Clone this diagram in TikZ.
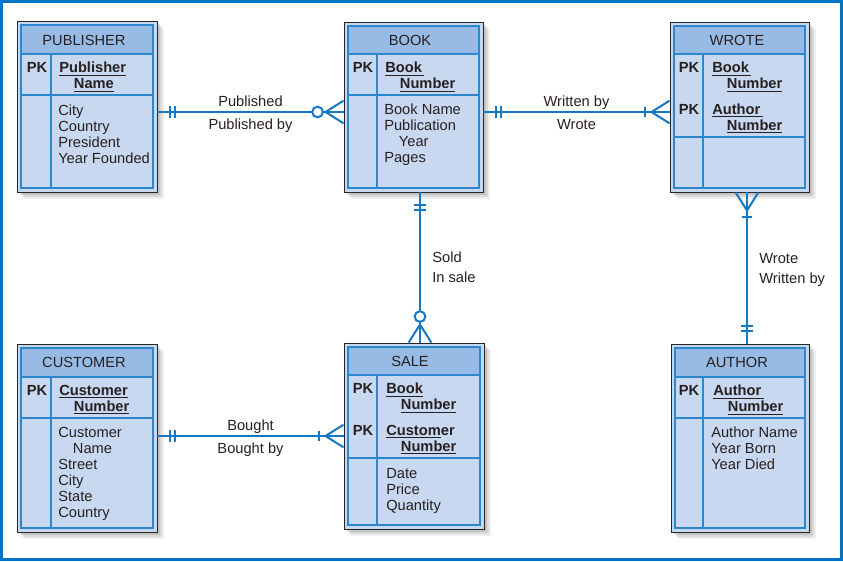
\documentclass[tikz,border=0pt]{standalone}
\usepackage{fontspec}
\setmainfont{Liberation Sans}
\usetikzlibrary{positioning,fit,calc,shadows,decorations.markings}
\definecolor{hdrcol}{RGB}{151,187,228}
\definecolor{bodycol}{RGB}{199,216,240}
\definecolor{edgecol}{RGB}{45,135,205}
\definecolor{relcol}{RGB}{20,120,195}
\definecolor{framecol}{RGB}{0,115,195}
\definecolor{txtcol}{RGB}{40,32,32}

\begin{document}
\begin{tikzpicture}[
  x=0.75pt, y=-0.75pt,
  tbl/.style={draw=black!85, line width=0.7pt, fill=bodycol, inner sep=0pt,
              drop shadow={shadow xshift=5pt, shadow yshift=-5pt, opacity=0.12},
              drop shadow={shadow xshift=3.5pt, shadow yshift=-3.5pt, opacity=0.18},
              drop shadow={shadow xshift=2pt, shadow yshift=-2pt, opacity=0.25}},
  hdr/.style={fill=hdrcol},
  inbox/.style={draw=edgecol, line width=1.2pt},
  inln/.style={draw=edgecol, line width=0.8pt},
  txt/.style={font=\fontsize{11}{12}\selectfont, text=txtcol, inner sep=0pt,
              align=left},
  ttl/.style={txt, anchor=center},
  pk/.style={txt, font=\fontsize{11}{12}\selectfont\bfseries, anchor=center},
  attr/.style={txt, anchor=north west},
  rel/.style={draw=relcol, line width=1.5pt},
  mk/.style={draw=relcol, line width=1.5pt},
  rlbl/.style={txt, anchor=base},
  vlbl/.style={txt, anchor=base west, xshift=8.5pt},
  onestart/.style={postaction={decorate, decoration={markings,
      mark=at position 9.75pt with {\draw[mk] (0,-4.5pt) -- (0,4.5pt);},
      mark=at position 13.5pt with {\draw[mk] (0,-4.5pt) -- (0,4.5pt);}}}},
  zeromany/.style={postaction={decorate, decoration={markings,
      mark=at position -13.5pt with
        {\draw[mk] (13.5pt,8.5pt) -- (0,0) -- (13.5pt,-8.5pt);},
      mark=at position -19.5pt with
        {\draw[mk, fill=white] (0,0) circle[radius=4pt];}}}},
  onemany/.style={postaction={decorate, decoration={markings,
      mark=at position -13.5pt with
        {\draw[mk] (13.5pt,8.5pt) -- (0,0) -- (13.5pt,-8.5pt);},
      mark=at position -18.75pt with {\draw[mk] (0,-4pt) -- (0,4pt);}}}}
]
\useasboundingbox (0,0) rectangle (843,561);
\fill[white] (0,0) rectangle (843,561);
\draw[framecol, line width=2.25pt] (1.5,1.5) rectangle (841.5,559.5);

%% PUBLISHER
\node[tbl, fit={(17,21) (157,192)}] (pub) {};
\fill[hdr] (21,25) rectangle (153,54);
\draw[inln] (21,54) -- (153,54) (21,95) -- (153,95) (51,54) -- (51,188);
\draw[inbox] (21,25) rectangle (153,188);
\node[ttl] (pubttl) at (84,40) {PUBLISHER};
\node[pk] (pubpk) at (37,67) {PK};
\node[attr] (pubkey) at (59,62)
  {\underline{\textbf{Publisher}}\\\hspace*{1em}\underline{\textbf{Name}}};
\node[attr] (pubatt) at (58,105) {City\\Country\\President\\Year Founded};

%% BOOK
\node[tbl, fit={(344,22) (483,192)}] (book) {};
\fill[hdr] (348,26) rectangle (479,54);
\draw[inln] (348,54) -- (479,54) (348,95) -- (479,95) (377,54) -- (377,188);
\draw[inbox] (348,26) rectangle (479,188);
\node[ttl] (bookttl) at (410,40) {BOOK};
\node[pk] (bookpk) at (363,67) {PK};
\node[attr] (bookkey) at (385,62)
  {\underline{\textbf{Book}\,}\\\hspace*{1em}\underline{\textbf{Number}}};
\node[attr] (bookatt) at (384,104)
  {Book Name\\Publication\\\hspace*{1em}Year\\Pages};

%% WROTE
\node[tbl, fit={(670,22) (809,192)}] (wrote) {};
\fill[hdr] (674,26) rectangle (805,54);
\draw[inln] (674,54) -- (805,54) (674,137) -- (805,137) (703,54) -- (703,188);
\draw[inbox] (674,26) rectangle (805,188);
\node[ttl] (wrotettl) at (737,40) {WROTE};
\node[pk] (wrotepk1) at (689,67) {PK};
\node[attr] (wrotekey1) at (712,62)
  {\underline{\textbf{Book}\,}\\\hspace*{1em}\underline{\textbf{Number}}};
\node[pk] (wrotepk2) at (689,109) {PK};
\node[attr] (wrotekey2) at (712,103.5)
  {\underline{\textbf{Author}\,}\\\hspace*{1em}\underline{\textbf{Number}}};

%% CUSTOMER
\node[tbl, fit={(17,344) (157,532)}] (cust) {};
\fill[hdr] (21,348) rectangle (153,377);
\draw[inln] (21,377) -- (153,377) (21,418) -- (153,418) (51,377) -- (51,528);
\draw[inbox] (21,348) rectangle (153,528);
\node[ttl] (custttl) at (84,362.5) {CUSTOMER};
\node[pk] (custpk) at (37,390) {PK};
\node[attr] (custkey) at (59,385)
  {\underline{\textbf{Customer}}\\\hspace*{1em}\underline{\textbf{Number}}};
\node[attr] (custatt) at (58,427)
  {Customer\\\hspace*{1em}Name\\Street\\City\\State\\Country};

%% SALE
\node[tbl, fit={(344,343) (484,529)}] (sale) {};
\fill[hdr] (348,347) rectangle (480,375);
\draw[inln] (348,375) -- (480,375) (348,458) -- (480,458) (377,375) -- (377,525);
\draw[inbox] (348,347) rectangle (480,525);
\node[ttl] (salettl) at (410,361.5) {SALE};
\node[pk] (salepk1) at (363,388) {PK};
\node[attr] (salekey1) at (386,383)
  {\underline{\textbf{Book}}\\\hspace*{1em}\underline{\textbf{Number}}};
\node[pk] (salepk2) at (363,430) {PK};
\node[attr] (salekey2) at (386,424.5)
  {\underline{\textbf{Custom}}\textbf{er}\\\hspace*{1em}\underline{\textbf{Number}}};
\node[attr] (saleatt) at (386,468) {Date\\Price\\Quantity};

%% AUTHOR
\node[tbl, fit={(671,344) (809,532)}] (author) {};
\fill[hdr] (675,348) rectangle (805,377);
\draw[inln] (675,377) -- (805,377) (675,418) -- (805,418) (703,377) -- (703,528);
\draw[inbox] (675,348) rectangle (805,528);
\node[ttl] (authttl) at (737,362.5) {AUTHOR};
\node[pk] (authpk) at (689,390) {PK};
\node[attr] (authkey) at (713,385)
  {\underline{\textbf{Author}\,}\\\hspace*{1em}\underline{\textbf{Number}}};
\node[attr] (authatt) at (711,427) {Author Name\\Year Born\\Year Died};

%% Relationships
\draw[rel, onestart, zeromany] (pub.east |- 0,112) -- (book.west |- 0,112)
  node[rlbl, midway, yshift=4.5pt] (publ1) {Published}
  node[rlbl, midway, yshift=-12.75pt] (publ2) {Published by};
\draw[rel, onestart, onemany] (book.east |- 0,112) -- (wrote.west |- 0,112)
  node[rlbl, midway, yshift=4.5pt] (wrl1) {Written by}
  node[rlbl, midway, yshift=-12.75pt] (wrl2) {Wrote};
\draw[rel, onestart, zeromany] (book.south -| 420,0) -- (sale.north -| 420,0)
  node[vlbl, midway, yshift=4.1pt] (sold1) {Sold}
  node[vlbl, midway, yshift=-10.9pt] (sold2) {In sale};
\draw[rel, onestart, onemany] (author.north -| 747,0) -- (wrote.south -| 747,0)
  node[vlbl, midway, yshift=3.75pt] (aul1) {Wrote}
  node[vlbl, midway, yshift=-11.25pt] (aul2) {Written by};
\draw[rel, onestart, onemany] (cust.east |- 0,436) -- (sale.west |- 0,436)
  node[rlbl, midway, yshift=4.5pt] (bol1) {Bought}
  node[rlbl, midway, yshift=-12.75pt] (bol2) {Bought by};

\end{tikzpicture}
\end{document}
